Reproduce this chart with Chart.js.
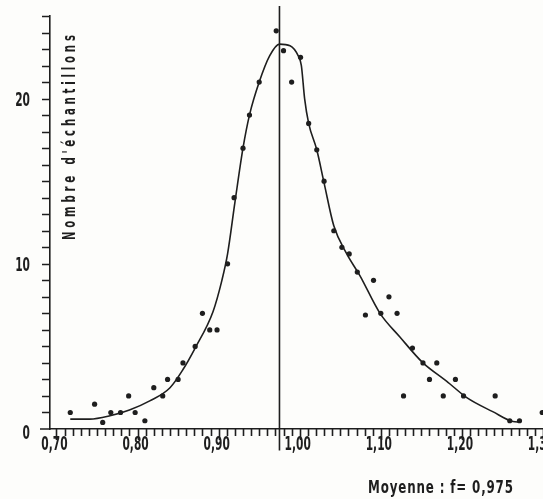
<!DOCTYPE html>
<html>
<head>
<meta charset="utf-8">
<script src="https://cdn.jsdelivr.net/npm/chart.js@4/dist/chart.umd.min.js"></script>
<style>
    html, body { margin: 0; padding: 0; background: #fdfdfb; }
    #wrap { width: 543px; height: 499px; }
</style>
</head>
<body>
<div id="wrap"><canvas id="chart" width="543" height="499"></canvas></div>
<script>
// Values
const sampleX = [0.717, 0.747, 0.757, 0.767, 0.779, 0.789, 0.797, 0.809, 0.820, 0.831,
    0.837, 0.850, 0.856, 0.871, 0.880, 0.889, 0.898, 0.911, 0.919, 0.930,
    0.938, 0.950, 0.971, 0.980, 0.990, 1.001, 1.011, 1.021, 1.030, 1.042,
    1.052, 1.061, 1.071, 1.081, 1.091, 1.100, 1.110, 1.120, 1.128, 1.139,
    1.152, 1.160, 1.169, 1.177, 1.192, 1.202, 1.241, 1.259, 1.271, 1.299];
const sampleY = [1, 1.5, 0.4, 1, 1, 2, 1, 0.5, 2.5, 2,
    3, 3, 4, 5, 7, 6, 6, 10, 14, 17,
    19, 21, 24.1, 22.9, 21, 22.5, 18.5, 16.9, 15, 12,
    11, 10.6, 9.5, 6.9, 9, 7, 8, 7, 2, 4.9,
    4, 3, 4, 2, 3, 2, 2, 0.5, 0.5, 1];

// fitted curve
const curveX = [0.717, 0.741, 0.766, 0.790, 0.815, 0.840, 0.856, 0.871, 0.893, 0.904,
    0.911, 0.920, 0.930, 0.938, 0.950, 0.963, 0.975, 0.988, 0.998, 1.002,
    1.006, 1.011, 1.021, 1.030, 1.042, 1.058, 1.074, 1.099, 1.123, 1.152,
    1.181, 1.206, 1.238, 1.263, 1.271];
const curveY = [0.6, 0.6, 0.8, 1.15, 1.7, 2.5, 3.6, 4.9, 7.1, 9.0,
    10.6, 13.7, 17.0, 19.0, 21.0, 22.6, 23.3, 23.2, 22.6, 22.0,
    20.0, 18.5, 16.9, 14.9, 12.3, 10.6, 9.3, 7.0, 5.6, 4.0,
    2.9, 1.9, 1.05, 0.45, 0.42];

const meanValue = 0.975;
const meanLineY = [-1.3, 25.6];

const xMinorTicks = [];
for (let i = 70; i <= 130; i++) xMinorTicks.push(i / 100);
const xLabelTicks = [0.70, 0.80, 0.90, 1.00, 1.10, 1.20, 1.30];
const yMinorTicks = [];
for (let i = 1; i <= 25; i++) yMinorTicks.push(i);
const yLabelTicks = [0, 10, 20];

const yTitle = "Nombre d'échantillons";
const meanText = 'Moyenne : f= 0,975';

const INK = '#1e1e1e';
const FONT = '"DejaVu Sans", sans-serif';

const toPoints = (xs, ys) => xs.map((x, i) => ({ x: x, y: ys[i] }));

// narrow lettering: squeeze horizontally, spread letters to a given total width
const narrowText = (ctx, text, x, y, font, squeeze, align, total) => {
    ctx.save();
    ctx.font = font + ' ' + FONT;
    ctx.letterSpacing = '0px';
    const w = ctx.measureText(text).width;
    let sp = 0;
    if (total) sp = (total / squeeze - w) / (text.length - 1);
    ctx.letterSpacing = sp.toFixed(2) + 'px';
    const full = (w + sp * (text.length - 1)) * squeeze;
    let left = x;
    if (align === 'center') left = x - full / 2;
    if (align === 'right') left = x - full;
    ctx.translate(left, y);
    ctx.scale(squeeze, 1);
    ctx.textAlign = 'left';
    ctx.textBaseline = 'alphabetic';
    ctx.fillText(text, 0, 0);
    ctx.restore();
};

// draws ticks, tick labels and the two free texts
const paperAxes = {
    id: 'paperAxes',
    afterDraw(chart) {
        const ctx = chart.ctx;
        const xs = chart.scales.x, ys = chart.scales.y;
        const x0 = xs.left, y0 = ys.getPixelForValue(0);
        ctx.save();
        ctx.strokeStyle = INK;
        ctx.fillStyle = INK;
        ctx.lineWidth = 1.6;
        ctx.beginPath();
        ctx.moveTo(x0 - 10, y0);
        ctx.lineTo(x0, y0);
        xMinorTicks.forEach(v => {
            const px = Math.round(xs.getPixelForValue(v)) + 0.5;
            const major = Math.abs(v * 10 - Math.round(v * 10)) < 1e-6;
            ctx.moveTo(px, y0);
            ctx.lineTo(px, y0 + (major ? 11 : 7));
        });
        yMinorTicks.forEach(v => {
            const py = Math.round(ys.getPixelForValue(v)) + 0.5;
            ctx.moveTo(x0, py);
            ctx.lineTo(x0 - 8, py);
        });
        ctx.stroke();

        xLabelTicks.forEach(v => {
            const px = xs.getPixelForValue(v) - 2;
            narrowText(ctx, v.toFixed(2).replace('.', ','), px, y0 + 21, 'bold 19px', 0.56, 'center');
        });
        yLabelTicks.forEach(v => {
            const py = ys.getPixelForValue(v);
            narrowText(ctx, String(v), 30, py + (v === 0 ? 10 : 7), 'bold 19px', 0.56, 'right');
        });

        // rotated y title inside the plot
        ctx.save();
        ctx.translate(75, 240);
        ctx.rotate(-Math.PI / 2);
        narrowText(ctx, yTitle, 0, 0, 'bold 17px', 0.6, 'left', 205);
        ctx.restore();

        narrowText(ctx, meanText, 368, 493, 'bold 18px', 0.66, 'left', 145);
        ctx.restore();
    }
};

const noPad = s => { s.paddingLeft = 0; s.paddingRight = 0; s.paddingTop = 0; s.paddingBottom = 0; };

new Chart(document.getElementById('chart'), {
    type: 'scatter',
    data: {
        datasets: [
            {
                label: 'Nombre',
                data: toPoints(sampleX, sampleY),
                backgroundColor: INK,
                borderColor: INK,
                pointRadius: 2.6,
                pointBorderWidth: 0,
                clip: false
            },
            {
                label: 'Courbe',
                type: 'line',
                data: toPoints(curveX, curveY),
                borderColor: INK,
                borderWidth: 1.6,
                pointRadius: 0,
                cubicInterpolationMode: 'monotone',
                fill: false
            },
            {
                label: 'Moyenne',
                type: 'line',
                data: meanLineY.map(y => ({ x: meanValue, y: y })),
                borderColor: INK,
                borderWidth: 1.6,
                pointRadius: 0,
                clip: false
            }
        ]
    },
    options: {
        responsive: false,
        animation: false,
        devicePixelRatio: 1,
        layout: { autoPadding: false, padding: { top: 16, left: 0, right: 0, bottom: 0 } },
        plugins: { legend: { display: false }, tooltip: { enabled: false } },
        scales: {
            x: {
                type: 'linear',
                min: 0.692,
                max: 1.300,
                afterBuildTicks: s => { s.ticks = xLabelTicks.map(v => ({ value: v })); },
                afterFit: s => { s.height = 70; noPad(s); },
                grid: { display: false, drawTicks: false },
                border: { display: true, color: INK, width: 1.6 },
                ticks: { display: false }
            },
            y: {
                type: 'linear',
                min: 0,
                max: 25,
                afterBuildTicks: s => { s.ticks = yLabelTicks.map(v => ({ value: v })); },
                afterFit: s => { s.width = 50; noPad(s); },
                grid: { display: false, drawTicks: false },
                border: { display: true, color: INK, width: 1.6 },
                ticks: { display: false }
            }
        }
    },
    plugins: [paperAxes]
});
</script>
</body>
</html>
